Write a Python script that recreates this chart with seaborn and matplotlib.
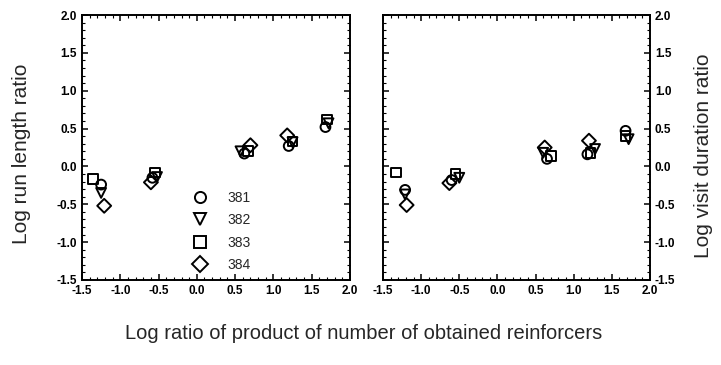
import numpy as np
import pandas as pd
import matplotlib
matplotlib.use("Agg")
import matplotlib.pyplot as plt
import seaborn as sns
from matplotlib.lines import Line2D
from matplotlib.ticker import MultipleLocator

sns.set_theme(style="ticks")
plt.rcParams['font.family'] = ['Liberation Sans', 'DejaVu Sans']

subjects = ["381", "382", "383", "384"]
markers = {"381": "o", "382": "v", "383": "s", "384": "D"}

# Left panel: log run length ratio
run_x = {
    "381": [-1.25, -0.58, 0.62, 1.20, 1.68],
    "382": [-1.25, -0.52, 0.57, 1.25, 1.72],
    "383": [-1.36, -0.55, 0.67, 1.25, 1.70],
    "384": [-1.21, -0.60, 0.70, 1.18],
}
run_y = {
    "381": [-0.24, -0.15, 0.17, 0.27, 0.52],
    "382": [-0.35, -0.14, 0.20, 0.32, 0.57],
    "383": [-0.17, -0.08, 0.20, 0.33, 0.62],
    "384": [-0.52, -0.21, 0.28, 0.41],
}

# Right panel: log visit duration ratio
visit_x = {
    "381": [-1.21, -0.60, 0.65, 1.18, 1.68],
    "382": [-1.21, -0.50, 0.60, 1.28, 1.72],
    "383": [-1.33, -0.55, 0.70, 1.22, 1.68],
    "384": [-1.19, -0.63, 0.62, 1.20],
}
visit_y = {
    "381": [-0.31, -0.18, 0.10, 0.16, 0.47],
    "382": [-0.37, -0.15, 0.18, 0.23, 0.36],
    "383": [-0.08, -0.10, 0.14, 0.18, 0.40],
    "384": [-0.51, -0.22, 0.25, 0.34],
}

xticks = [-1.5, -1.0, -0.5, 0.0, 0.5, 1.0, 1.5, 2.0]
yticks = [-1.5, -1.0, -0.5, 0.0, 0.5, 1.0, 1.5, 2.0]


def make_df(xd, yd):
    rows = []
    for s in subjects:
        for xv, yv in zip(xd[s], yd[s]):
            rows.append({"x": xv, "y": yv, "subject": s})
    return pd.DataFrame(rows)


fig = plt.figure(figsize=(7.21, 3.65), dpi=100)
axL = fig.add_axes([0.1137, 0.2329, 0.3717, 0.7260])
axR = fig.add_axes([0.5312, 0.2329, 0.3703, 0.7260])

for ax, (xd, yd) in zip([axL, axR], [(run_x, run_y), (visit_x, visit_y)]):
    df = make_df(xd, yd)
    for s in subjects:
        sub = df[df["subject"] == s]
        sns.scatterplot(data=sub, x="x", y="y", marker=markers[s], s=50,
                        facecolors="none", edgecolors="black", linewidth=1.4,
                        ax=ax, legend=False, zorder=3)
    ax.set_xlim(-1.5, 2.0)
    ax.set_ylim(-1.5, 2.0)
    ax.set_xticks(xticks)
    ax.set_yticks(yticks)
    ax.set_xticklabels([f"{t:.1f}" for t in xticks], fontweight="bold")
    ax.set_yticklabels([f"{t:.1f}" for t in yticks], fontweight="bold")
    ax.xaxis.set_minor_locator(MultipleLocator(0.1))
    ax.yaxis.set_minor_locator(MultipleLocator(0.1))
    ax.tick_params(which="both", direction="in", top=True, right=True,
                   colors="black", labelsize=8.5)
    ax.tick_params(which="major", length=4, width=1.1)
    ax.tick_params(which="minor", length=2, width=0.8)
    for sp in ax.spines.values():
        sp.set_visible(True)
        sp.set_color("black")
        sp.set_linewidth(1.4)
    ax.set_xlabel("")
    ax.set_ylabel("")

axL.set_ylabel("Log run length ratio", fontsize=15)
axL.yaxis.set_label_coords(-0.19, 0.475)
axR.yaxis.set_label_position("right")
axR.tick_params(which="both", labelleft=False, labelright=True)
axR.set_ylabel("Log visit duration ratio", fontsize=15, rotation=90)
axR.yaxis.set_label_coords(1.165, 0.47)

handles = [Line2D([], [], marker=markers[s], linestyle="none",
                  markerfacecolor="none", markeredgecolor="black",
                  markeredgewidth=1.4, markersize=8) for s in subjects]
axL.legend(handles, subjects, loc="upper left", frameon=False,
           fontsize=10, labelspacing=0.6, handletextpad=1.0, borderpad=0,
           borderaxespad=0, handlelength=2.0,
           bbox_to_anchor=(0.388, 0.336))

fig.text(0.505, 0.085, "Log ratio of product of number of obtained reinforcers",
         ha="center", va="center", fontsize=14.5)

fig.savefig("out.png", dpi=100)
